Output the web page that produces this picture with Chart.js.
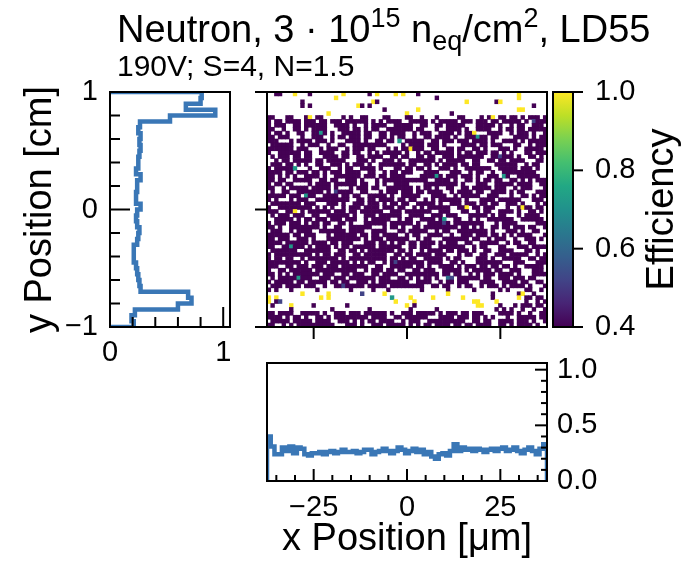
<!DOCTYPE html>
<html>
<head>
<meta charset="utf-8">
<script src="https://cdn.jsdelivr.net/npm/chart.js@4.4.1/dist/chart.umd.min.js"></script>
<style>
  body { margin: 0; background: #fff; }
  #wrap { position: relative; width: 684px; height: 562px; }
  #wrap canvas { position: absolute; left: 0; top: 0; }
</style>
</head>
<body>
<div id="wrap">
  <canvas id="yprof" width="684" height="562"></canvas>
  <canvas id="heat" width="684" height="562"></canvas>
  <canvas id="cbar" width="684" height="562"></canvas>
  <canvas id="xprof" width="684" height="562"></canvas>
</div>
<script>
// efficiency map, one string per row from top (y = +1) down to y = -1, 75 columns
// '.' = no entry, '#' = 0.4 and below, b/c/t/g = 0.52/0.62/0.72/0.85, y = 1.0
var cellCodes = { '#': 0.40, b: 0.52, c: 0.62, t: 0.72, g: 0.85, y: 1.0 };
var heatRows = [
  "..##. ..y.. .#... ..... y.... ..#.y ....y .y... #.... ..... ..... ..... ..... ..y.. .....",
  "..... ..... ..... ...y. ..... ..... ..... ..... ..... #.... ..... ..... ..... ..y.. .....",
  "..... ....# ..... ..... ..... ...y# ..... ..... ..... ..... ...y. ..... .#y.. ..... .....",
  "..... ....# .#... ..... ....y #.#.. ..... ..... ..... ..... ..... ..... ..... ..... .#...",
  "..... ..... ..... ..... ..... ..... .#... ..... y.... ..... ..... ..... ..... ..yy. .....",
  "..... ..... ..... .y... ..... ..... ..... ..y.. ..... ....# ..... ..... ..... ..... .....",
  "##... ##... #y.## ..... #.#.. ##... .##.. ..##. .#... #.... .##.. ..#.# y.##. ##.#. ###.#",
  "#.##. ####. ###.# #.### .#### ##.#. #.### #..## ###.# .#### #.### .###. ##.## ###.# .b###",
  "#.### ..##. ##### #..## ##.#. .#.## ##..# ####. .##.. ##.## ###.. .#### #.#.. #.##. .###.",
  "##..# ..##. #.### #...# ##.## .#.## ..### ####. ##... #..## ##.#. .#### ..#.# #.##. #####",
  "#.##. #..## ..##t #.#.. ##### .##.. ##.## ##..# .###. .#### .#.## y...# ###.. #.### .#..#",
  "##.## #...# ..### ..#.# #.### .##.. ##.#. ##..# ..##. ####. #..## #t##. ##... .#### .#.##",
  "###.. .#.## ##.## #.#.. .#### .#..# #.##. t.### ##..# #.### .###. ####. #..## ##.#. #####",
  ".#### ##..# .###. .#..# #..## ##### ##... .#.## ##.## #.#.. ..### #.##. ###.. .##.. #.###",
  "##### ##.## #...# .###. .#.## #.##. ..#.# .##y# ##..# #..## .##.. ##.#. ..### .#..# ####.",
  "#..## ####. ##..# ###.. ##.## ..#.# .#### #.#.. #.##. ##### .#.## .###. ##.#. #...# #.###",
  ".#.## #.##. ##... ####. ##..# #.### #..## .##.. ##.## ..### .#### ###.. ##b## #.#.. ##.#.",
  "..#.# #.### ##.## .#### #...# ##.#. .###. #..## ##### .#.## ###.. ##..# #.##. ####. ..##.",
  ".###. ##.#. #..## ..### .#.## #.#.. ##### ##.## ..##. #.### #.##. ##... .#### ##..# .##..",
  "#.### ##t.. .#..# ##..# .##.. ####. #...# #.##. ##.#. .###. #..## ##### ..### ##.## #.#..",
  "####. ##.## #.##. #.### .#### ..##. .#.## .###. ..### #...# ##..# .##.. #..## ##### ##...",
  "##.#. #.#.. ####. #..## ##### .###. ##.## ##... .#### t#.## #.### .#..# ##.t# ..### ###..",
  "##.## ..### ##..# #.##. .###. #...# .#### ##### ###.. ####. #..## .#.## .##.. ##.#. #.###",
  "#.##. ##... .#.## ##.## ####. ##..# .#..# ###.. ..### ##### #.#.. .###. .#### #.### #..##",
  "##..# .#### #.### ##.#. ..#.# ##.## ..### ####. #.##. #..## ..##. ##### .###. .#.## #...#",
  ".#..# #..## ##### .#.b# ###.. ##... #.### .###. ##.## ##..# .#### .##.. ####. #.##. ..###",
  "##### .###. t##.. ####. ##.## ..### ##.#. .#### #...# ###.. #.### ##..# ##... #..## .#.##",
  "#.#.. .#.## #..## ##### ##..# #.##. ####. ##.## ..#.# .#### ##.#. ..### #.### ###.. .###.",
  ".#### ####. ###.. .###. #..## #.### .#.## .##.. ##### .#..# ##.## #.##. ##..# ##.#. ..#.#",
  "#..## ##### ##.#. #.#.. #.### .#### .###. ##..# .#.## ####. .##y. ##.## #...# ..#y# #.##.",
  "###.. ##y.# .#### ##.## #.##. ##### #..## #.### ####. .###. ..##. .#.## ..### #.#.. ##.#.",
  ".#.## #.### ..##. .#### ##.#. .###. ##### #..## ##..# ##.## #...# ####. #.##. ..#.# ###..",
  "..### ##.#. ##.## #.### .###. .#.## ###.. #.##. .#### .#t.. ##..# .#..# ##### #..## ####.",
  "#.### .###. #.##. ##..# #.#.. .#### ##.## ####. #..## ##b#. ##### ###.. .#.## ##... ..###",
  "##.#. .#### ####. #..## ..### ###.. .#.## .#..# #.### ##### #.##. #.#.. ##.## .###. ##..#",
  ".###. .#.## ##..# ##### #.### #..## ##... ##.## ###.. #.##. .#### ####. #...# ##.#. .##..",
  "##### #.##. ###.. .#.## ####. ##.## .#### ..#.# #..## ##..# ..### .###. ##.#. #.### #...#",
  "##.## #..## #.#.. .#### ##### .#.## #.### ###.. #.##. ..### ####. ##..# .###. .#..# ##.#.",
  "####. ##### #.### #.##. ###.. .###. ##.#. ##.## .#### .#.## #..## ..### ##..# .##.. ##...",
  "##..# #t### .#.## ##.#. ##.## ####. ##### #..## .###. .#### ###.. #.##. ..##. ..### .####",
  ".#### ###.. ##### ##..# #.##. #.### ####. ##.#. .#.## ##.## .###. #..## ..### #...# #.#..",
  "#.### ##### ##.#. ##.## #..## .#### ##..# #.##. ####. ###.. .#.## ..##. .###. ##### ..#.#",
  "#.##. ##..# .#### ####. #.### ##### ##.## .#.## ..### ##.#. ##... .###. #..## ###.. ##.##",
  "##### ####. #..## #.### ##.#. #.##. .#.#b ##### ##.## ##..# #.#.. .#### ###.. .###. ..###",
  "###.. ##.## #.### .###. ##### ##..# #..## ####. ##.#. .#### .#.## #.##. ##.## .#..# ####.",
  "#..## .#### ##.## ##### ####. .#.## #.##. ##..# #.### ..### ##.#. ##### .##.. ###.. .###.",
  "##.#. #.### ####. ###.. ##.## #..## .#### ..### ##### #.##. ##..# .#.## #.### #.#.. .####",
  ".#.## ###t# ##..# ##.## #.### ####. ###.. ##.#. #.##. #..cb .#### ##.## ..### .###. ##...",
  "#.### ##.## .#### #.##. ##..# ##.#. ##### ###.. ####. .#.## .###. ..### #..## ##.## ..##.",
  ".###. ####. ###.. #..## b#### #.### ##.## ##### ##..# #.##. .#.## ..#.# ##.#. ####. #...#",
  "#.#.. .#... ...#. ..... ..#.. ...#. ..#.. ..... .#... ...#. ..... #.... ..#.# ....# #..#.",
  "..... ....y ..... .y... ..... b.... .y... ..... ..... ...y. ..... ..... #.... ..#y. .#...",
  "y.y.. ..... ....y .y... ..... ..... ...t. ...y. ....y ..... ..y.. ..... #.... ..y.# #.##.",
  "y.#b. ..... ..... ..... ..... ..... ....y ....y ..... ..... ..... yy... .y... ....# ..#.#",
  ".#... .y... ..#.. ..... .#... ..... ..... ..y.# ..... ..... ..... .yy.. ..#.. .#.## #.##.",
  "..... .#... ..... ..#.. ..... ..#.. ..... ...#. ..... #.... ..... ..... .#.#. #..#. .#..#",
  "##.## ##..# ####. #..## #.### .#### ##.#. .###. ##### .#.## #.##. ###.. ..### #.#.. #..##",
  "####. #.##. #..## .#.## ##### ##.## ##..# #.### ###.. .#### .###. ##.#. #...# ..### ##.##",
  ".#### #.### ##.## ##..# ##.#. #.##. ####. .#.## #..## ##### ###.. ##.## ..### #.### .#..#",
  "##..# .#.## ##### ###.. .###. #..## #.### ##.#. #.##. ####. ##.## .#### ..##. #.### #.#.."
];
var nx = 75;
var xRange = [-37.5, 37.5];
var yRange = [-1, 1];

// column efficiency (x profile), left to right
var xProfile = [0.40, 0.31, 0.24, 0.24, 0.30, 0.27, 0.31, 0.25, 0.30, 0.29,
  0.24, 0.23, 0.25, 0.25, 0.26, 0.24, 0.26, 0.27, 0.25, 0.26,
  0.28, 0.26, 0.26, 0.27, 0.25, 0.26, 0.28, 0.28, 0.24, 0.26,
  0.27, 0.29, 0.27, 0.25, 0.27, 0.30, 0.28, 0.25, 0.27, 0.29,
  0.26, 0.28, 0.24, 0.26, 0.22, 0.20, 0.24, 0.25, 0.23, 0.27,
  0.33, 0.27, 0.30, 0.28, 0.29, 0.27, 0.29, 0.28, 0.26, 0.28,
  0.29, 0.27, 0.29, 0.30, 0.27, 0.28, 0.30, 0.27, 0.25, 0.28,
  0.30, 0.27, 0.24, 0.29, 0.33];
// row efficiency (y profile), from y = -1 up to y = +1
var yProfile = [0.21, 0.19, 0.22, 0.60, 0.72, 0.69, 0.27, 0.26, 0.25, 0.24,
  0.23, 0.21, 0.21, 0.21, 0.24, 0.25, 0.26, 0.24, 0.23, 0.24,
  0.27, 0.23, 0.23, 0.24, 0.24, 0.27, 0.23, 0.25, 0.25, 0.26,
  0.27, 0.26, 0.27, 0.25, 0.265, 0.53, 0.93, 0.67, 0.80, 0.81];

var xTicks = [-25, 0, 25];
var xMinor = [-35, -30, -20, -15, -10, -5, 5, 10, 15, 20, 30, 35];
var yTicks = [-1, 0, 1];
var yMinor = [-0.8, -0.6, -0.4, -0.2, 0.2, 0.4, 0.6, 0.8];
var effTicks = [0.4, 0.6, 0.8, 1.0];
var profTicks = [0, 1];
var profMinor = [0.2, 0.4, 0.6, 0.8];
var xProfTicks = [0, 0.5, 1.0];
var xProfMinor = [0.1, 0.2, 0.3, 0.4, 0.6, 0.7, 0.8, 0.9];

var titleParts = [
  { text: 'Neutron, 3 \u00b7 10', size: 38, dy: 0 },
  { text: '15', size: 27, dy: -15 },
  { text: ' n', size: 38, dy: 0 },
  { text: 'eq', size: 27, dy: 8 },
  { text: '/cm', size: 38, dy: 0 },
  { text: '2', size: 27, dy: -15 },
  { text: ', LD55', size: 38, dy: 0 }
];
var subTitle = '190V; S=4, N=1.5';

var FONT = '"Liberation Sans", Arial, Helvetica, sans-serif';
var lineBlue = '#3a77b6';
Chart.defaults.font.family = FONT;
Chart.defaults.color = '#000';

var viridis = ['#440154', '#482475', '#414487', '#355f8d', '#2a788e', '#21918c',
  '#22a884', '#44bf70', '#7ad151', '#bddf26', '#fde725'];

function hexRgb(h) {
  return [parseInt(h.substr(1, 2), 16), parseInt(h.substr(3, 2), 16), parseInt(h.substr(5, 2), 16)];
}

function cmap(v) {
  var t = (v - effTicks[0]) / (effTicks[effTicks.length - 1] - effTicks[0]);
  t = Math.max(0, Math.min(1, t)) * (viridis.length - 1);
  var i = Math.min(Math.floor(t), viridis.length - 2);
  var f = t - i;
  var a = hexRgb(viridis[i]), b = hexRgb(viridis[i + 1]);
  return 'rgb(' + Math.round(a[0] + (b[0] - a[0]) * f) + ',' +
    Math.round(a[1] + (b[1] - a[1]) * f) + ',' + Math.round(a[2] + (b[2] - a[2]) * f) + ')';
}

function minus(v) {
  return v < 0 ? '\u2212' + Math.abs(v) : String(v);
}

function fixTicks(list) {
  return function (scale) {
    scale.ticks = list.map(function (v) { return { value: v }; });
  };
}

// heatmap cells as floating bars
var cells = [];
var cellColors = [];
var dx = (xRange[1] - xRange[0]) / nx;
var dy = (yRange[1] - yRange[0]) / heatRows.length;
heatRows.forEach(function (row, r) {
  var s = row.replace(/ /g, '');
  while (s.length < nx) s += '.';
  for (var c = 0; c < nx; c++) {
    var v = cellCodes[s[c]];
    if (v === undefined) continue;
    var top = yRange[1] - r * dy;
    cells.push({ x: xRange[0] + (c + 0.5) * dx, y: [top - dy, top] });
    cellColors.push(cmap(v));
  }
});

// histogram outline (step) for the profiles
function stepLine(lo, hi, vals, vertical) {
  var w = (hi - lo) / vals.length;
  var pts = [vertical ? { x: 0, y: lo } : { x: lo, y: 0 }];
  vals.forEach(function (v, i) {
    var a = lo + i * w, b = a + w;
    if (vertical) {
      pts.push({ x: v, y: a });
      pts.push({ x: v, y: b });
    } else {
      pts.push({ x: a, y: v });
      pts.push({ x: b, y: v });
    }
  });
  pts.push(vertical ? { x: 0, y: hi } : { x: hi, y: 0 });
  return pts;
}

// black box around the plot area plus tick marks
var spines = {
  id: 'spines',
  afterDraw: function (chart, args, opts) {
    var ctx = chart.ctx, a = chart.chartArea;
    ctx.save();
    ctx.strokeStyle = '#000';
    ctx.lineWidth = 2;
    ctx.strokeRect(a.left, a.top, a.right - a.left, a.bottom - a.top);
    (opts.marks || []).forEach(function (m) {
      var sc = chart.scales[m.axis];
      var sgn = m.out ? 1 : -1;
      m.at.forEach(function (v) {
        var p = sc.getPixelForValue(v);
        ctx.beginPath();
        if (m.side === 'bottom') {
          ctx.moveTo(p, a.bottom);
          ctx.lineTo(p, a.bottom + sgn * m.len);
        } else if (m.side === 'left') {
          ctx.moveTo(a.left, p);
          ctx.lineTo(a.left - sgn * m.len, p);
        } else {
          ctx.moveTo(a.right, p);
          ctx.lineTo(a.right + sgn * m.len, p);
        }
        ctx.stroke();
      });
    });
    ctx.restore();
  }
};

var titleBlock = {
  id: 'titleBlock',
  afterDraw: function (chart) {
    var ctx = chart.ctx;
    ctx.save();
    ctx.fillStyle = '#000';
    ctx.textBaseline = 'alphabetic';
    ctx.textAlign = 'left';
    var x = 117;
    titleParts.forEach(function (p) {
      ctx.font = p.size + 'px ' + FONT;
      ctx.fillText(p.text, x, 42 + p.dy);
      x += ctx.measureText(p.text).width;
    });
    ctx.font = '30px ' + FONT;
    ctx.fillText(subTitle, 117, 76);
    ctx.restore();
  }
};

var cbarLabel = {
  id: 'cbarLabel',
  afterDraw: function (chart) {
    var ctx = chart.ctx, a = chart.chartArea;
    ctx.save();
    ctx.translate(a.right + 90, (a.top + a.bottom) / 2);
    ctx.rotate(-Math.PI / 2);
    ctx.font = '38px ' + FONT;
    ctx.fillStyle = '#000';
    ctx.textAlign = 'center';
    ctx.textBaseline = 'middle';
    ctx.fillText('Efficiency', 0, 0);
    ctx.restore();
  }
};

var common = {
  responsive: false,
  animation: false,
  devicePixelRatio: 1,
  events: []
};

function opts(extra) {
  var o = Object.assign({}, common, extra);
  o.plugins = Object.assign({ legend: { display: false }, tooltip: { enabled: false } }, extra.plugins || {});
  return o;
}

var noGrid = { display: false, drawTicks: false };

// y profile, left panel
new Chart('yprof', {
  type: 'scatter',
  data: {
    datasets: [{
      data: stepLine(yRange[0], yRange[1], yProfile, true),
      showLine: true, pointRadius: 0, borderColor: lineBlue, borderWidth: 4.5, clip: 0
    }]
  },
  options: opts({
    layout: { padding: { left: 0, top: 92, right: 454, bottom: 0 } },
    scales: {
      x: {
        type: 'linear', min: 0, max: 1.06, grid: noGrid, border: { display: false },
        afterBuildTicks: fixTicks(profTicks),
        ticks: { font: { size: 29 }, padding: 9, maxRotation: 0, autoSkip: false, callback: minus },
        afterFit: function (s) { s.height = 235; }
      },
      y: {
        type: 'linear', min: -1, max: 1, grid: noGrid, border: { display: false },
        afterBuildTicks: fixTicks(yTicks),
        ticks: { font: { size: 29 }, padding: 12, autoSkip: false, callback: minus },
        title: { display: true, text: 'y Position [cm]', font: { size: 38 }, padding: { top: 18, bottom: 0 } },
        afterFit: function (s) { s.width = 110; }
      }
    },
    plugins: {
      spines: {
        marks: [
          { axis: 'y', side: 'left', at: yTicks, len: 20 },
          { axis: 'y', side: 'left', at: yMinor, len: 10 },
          { axis: 'x', side: 'bottom', at: profTicks, len: 20 },
          { axis: 'x', side: 'bottom', at: profMinor, len: 10 }
        ]
      }
    }
  }),
  plugins: [spines]
});

// 2D efficiency map
new Chart('heat', {
  type: 'bar',
  data: {
    datasets: [{
      data: cells, backgroundColor: cellColors, borderWidth: 0,
      barPercentage: 1, categoryPercentage: 1, grouped: false
    }]
  },
  options: opts({
    layout: { padding: { left: 267, top: 92, right: 137, bottom: 235 } },
    scales: {
      x: { type: 'linear', min: xRange[0], max: xRange[1], offset: false, display: false },
      y: { type: 'linear', min: yRange[0], max: yRange[1], display: false }
    },
    plugins: {
      spines: {
        marks: [
          { axis: 'y', side: 'left', at: yTicks, len: 12, out: true },
          { axis: 'x', side: 'bottom', at: xTicks, len: 12, out: true }
        ]
      }
    }
  }),
  plugins: [spines, titleBlock]
});

// colour bar
new Chart('cbar', {
  type: 'bar',
  data: {
    labels: [''],
    datasets: [{
      data: [[effTicks[0], effTicks[effTicks.length - 1]]],
      barPercentage: 1, categoryPercentage: 1, borderWidth: 0,
      backgroundColor: function (c) {
        var a = c.chart.chartArea;
        if (!a) return viridis[0];
        var g = c.chart.ctx.createLinearGradient(0, a.bottom, 0, a.top);
        viridis.forEach(function (col, i) { g.addColorStop(i / (viridis.length - 1), col); });
        return g;
      }
    }]
  },
  options: opts({
    layout: { padding: { left: 553, top: 92, right: 0, bottom: 235 } },
    scales: {
      x: { display: false },
      y: {
        position: 'right', min: effTicks[0], max: effTicks[effTicks.length - 1],
        grid: noGrid, border: { display: false },
        afterBuildTicks: fixTicks(effTicks),
        ticks: { font: { size: 29 }, padding: 22, autoSkip: false, callback: function (v) { return v.toFixed(1); } },
        afterFit: function (s) { s.width = 111; }
      }
    },
    plugins: {
      spines: { marks: [{ axis: 'y', side: 'right', at: effTicks, len: 10, out: true }] }
    }
  }),
  plugins: [spines, cbarLabel]
});

// x profile, bottom panel
new Chart('xprof', {
  type: 'scatter',
  data: {
    datasets: [{
      data: stepLine(xRange[0], xRange[1], xProfile, false),
      showLine: true, pointRadius: 0, borderColor: lineBlue, borderWidth: 4.5, clip: 0
    }]
  },
  options: opts({
    layout: { padding: { left: 267, top: 363, right: 0, bottom: 0 } },
    scales: {
      x: {
        type: 'linear', min: xRange[0], max: xRange[1], grid: noGrid, border: { display: false },
        afterBuildTicks: fixTicks(xTicks),
        ticks: { font: { size: 29 }, padding: 10, maxRotation: 0, autoSkip: false, callback: minus },
        title: { display: true, text: 'x Position [\u03bcm]', font: { size: 38 }, padding: { top: 0, bottom: 0 } },
        afterFit: function (s) { s.height = 81; }
      },
      y: {
        position: 'right', type: 'linear', min: 0, max: 1.06, grid: noGrid, border: { display: false },
        afterBuildTicks: fixTicks(xProfTicks),
        ticks: { font: { size: 29 }, padding: 10, autoSkip: false, callback: function (v) { return v.toFixed(1); } },
        afterFit: function (s) { s.width = 137; }
      }
    },
    plugins: {
      spines: {
        marks: [
          { axis: 'x', side: 'bottom', at: xTicks, len: 12 },
          { axis: 'x', side: 'bottom', at: xMinor, len: 6 },
          { axis: 'y', side: 'right', at: xProfTicks, len: 12 },
          { axis: 'y', side: 'right', at: xProfMinor, len: 6 }
        ]
      }
    }
  }),
  plugins: [spines]
});
</script>
</body>
</html>
